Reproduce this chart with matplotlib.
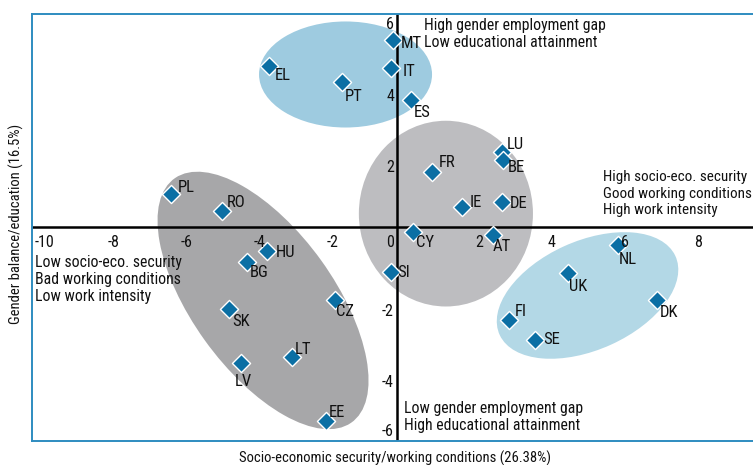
import matplotlib
matplotlib.use("Agg")
import matplotlib.pyplot as plt
from matplotlib.patches import Ellipse

plt.rcParams["font.family"] = ["Roboto Condensed", "Liberation Sans Narrow", "Lato", "DejaVu Sans"]

# Country scores on the two components
countries = ["EL", "PT", "MT", "IT", "ES", "PL", "RO", "HU", "BG", "SK", "CZ", "LT", "LV", "EE",
             "FR", "LU", "BE", "IE", "DE", "CY", "AT", "SI", "NL", "UK", "DK", "FI", "SE"]
socio_eco = [-3.51, -1.51, -0.11, -0.16, 0.38, -6.19, -4.79, -3.56, -4.11, -4.60, -1.70, -2.88, -4.27, -1.95,
             0.96, 2.88, 2.90, 1.78, 2.88, 0.44, 2.63, -0.16, 6.05, 4.68, 7.12, 3.07, 3.78]
gender_edu = [4.55, 4.10, 5.28, 4.47, 3.57, 0.93, 0.45, -0.67, -0.96, -2.30, -2.05, -3.65, -3.82, -5.45,
              1.57, 2.13, 1.91, 0.59, 0.73, -0.14, -0.22, -1.26, -0.48, -1.29, -2.05, -2.61, -3.17]

# Cluster ellipses (centre x, centre y, width, height, angle)
cluster_x = [-1.41, 1.34, -3.67, 5.22]
cluster_y = [4.30, 0.39, -2.05, -1.91]
cluster_w = [4.74, 4.77, 8.40, 5.30]
cluster_h = [2.98, 5.22, 3.90, 3.05]
cluster_angle = [0, 0, -55, 25]

xticks = [-10, -8, -6, -4, -2, 0, 2, 4, 6, 8, 10]
yticks = [-6, -4, -2, 2, 4, 6]

quadrant_text = [
    "High gender employment gap\nLow educational attainment",
    "High socio-eco. security\nGood working conditions\nHigh work intensity",
    "Low socio-eco. security\nBad working conditions\nLow work intensity",
    "Low gender employment gap\nHigh educational attainment",
]

# label offsets in pixels (dx, dy) from marker
label_off = {
    "EL": (14, -10), "PT": (12, -15), "MT": (18, -4), "IT": (18, -3), "ES": (11, -12),
    "PL": (15, 7), "RO": (14, 9), "HU": (18, -1), "BG": (12, -11), "SK": (12, -12),
    "CZ": (10, -11), "LT": (11, 8), "LV": (2, -18), "EE": (11, 9), "FR": (15, 9),
    "LU": (13, 7), "BE": (13, -8), "IE": (14, 4), "DE": (16, -2), "CY": (12, -10),
    "AT": (9, -11), "SI": (12, 0), "NL": (10, -15), "UK": (10, -13), "DK": (12, -12),
    "FI": (12, 9), "SE": (17, 1),
}
cluster_colors = ["#9ecbe0", "#bdbdc0", "#a7a7a9", "#b3d8e6"]
frame_blue = "#2e8cc0"
marker_blue = "#0b6fa4"
txt_col = "#111111"
fs = 11.5

fig = plt.figure(figsize=(7.53, 4.65), dpi=100)
ax = fig.add_axes([32 / 753, 24 / 465, 730 / 753, 427 / 465])
ax.set_xlim(-10, 10)
ax.set_ylim(-6, 6)
ax.set_xticks([])
ax.set_yticks([])
for s in ax.spines.values():
    s.set_color(frame_blue)
    s.set_linewidth(1.4)

# ellipses behind everything
for cx, cy, w, h, a, c in zip(cluster_x, cluster_y, cluster_w, cluster_h, cluster_angle, cluster_colors):
    ax.add_patch(Ellipse((cx, cy), w, h, angle=a, facecolor=c, edgecolor="none", zorder=1))

# axes through origin
ax.axhline(0, color="black", lw=1.8, zorder=2)
ax.axvline(0, color="black", lw=1.8, zorder=2)

ax.scatter(socio_eco, gender_edu, marker="D", s=85, color=marker_blue,
           edgecolors="white", linewidths=1, zorder=3)

for name, x, y in zip(countries, socio_eco, gender_edu):
    ax.annotate(name, (x, y), xytext=label_off[name], textcoords="offset pixels",
                ha="center", va="center", fontsize=12, color=txt_col, zorder=4)

# tick labels next to the zero axes
for t in xticks:
    if t == -10:
        ax.annotate(str(t), (t, 0), xytext=(3, -15), textcoords="offset pixels",
                    ha="left", va="center", fontsize=fs, color=txt_col, zorder=4)
    elif t == 0:
        ax.annotate("0", (t, 0), xytext=(-7, -15), textcoords="offset pixels",
                    ha="center", va="center", fontsize=fs, color=txt_col, zorder=4)
    else:
        ax.annotate(str(t), (t, 0), xytext=(9, -15), textcoords="offset pixels",
                    ha="center", va="center", fontsize=fs, color=txt_col, zorder=4)
for t in yticks:
    dy = -11 if t > 0 else -13
    if t == -6:
        dy = 10
    ax.annotate(str(t), (0, t), xytext=(-3, dy), textcoords="offset pixels",
                ha="right", va="center", fontsize=fs, color=txt_col, zorder=4)

# quadrant descriptions
qpos = [(0.74, 5.44), (5.65, 0.955), (-9.92, -1.46), (0.19, -5.32)]
qsize = [11.3, 10.9, 11.3, 11.3]
for (qx, qy), txt, qs in zip(qpos, quadrant_text, qsize):
    ax.text(qx, qy, txt, ha="left", va="center", fontsize=qs, linespacing=1.2,
            color=txt_col, zorder=4)

fig.text(395 / 753, 1 - 458 / 465, "Socio-economic security/working conditions (26.38%)",
         ha="center", va="center", fontsize=10.5, color=txt_col)
fig.text(16 / 753, 1 - 224 / 465, "Gender balance/education (16.5%)",
         ha="center", va="center", rotation=90, fontsize=10.5, color=txt_col)

fig.savefig("out.png", dpi=100)
